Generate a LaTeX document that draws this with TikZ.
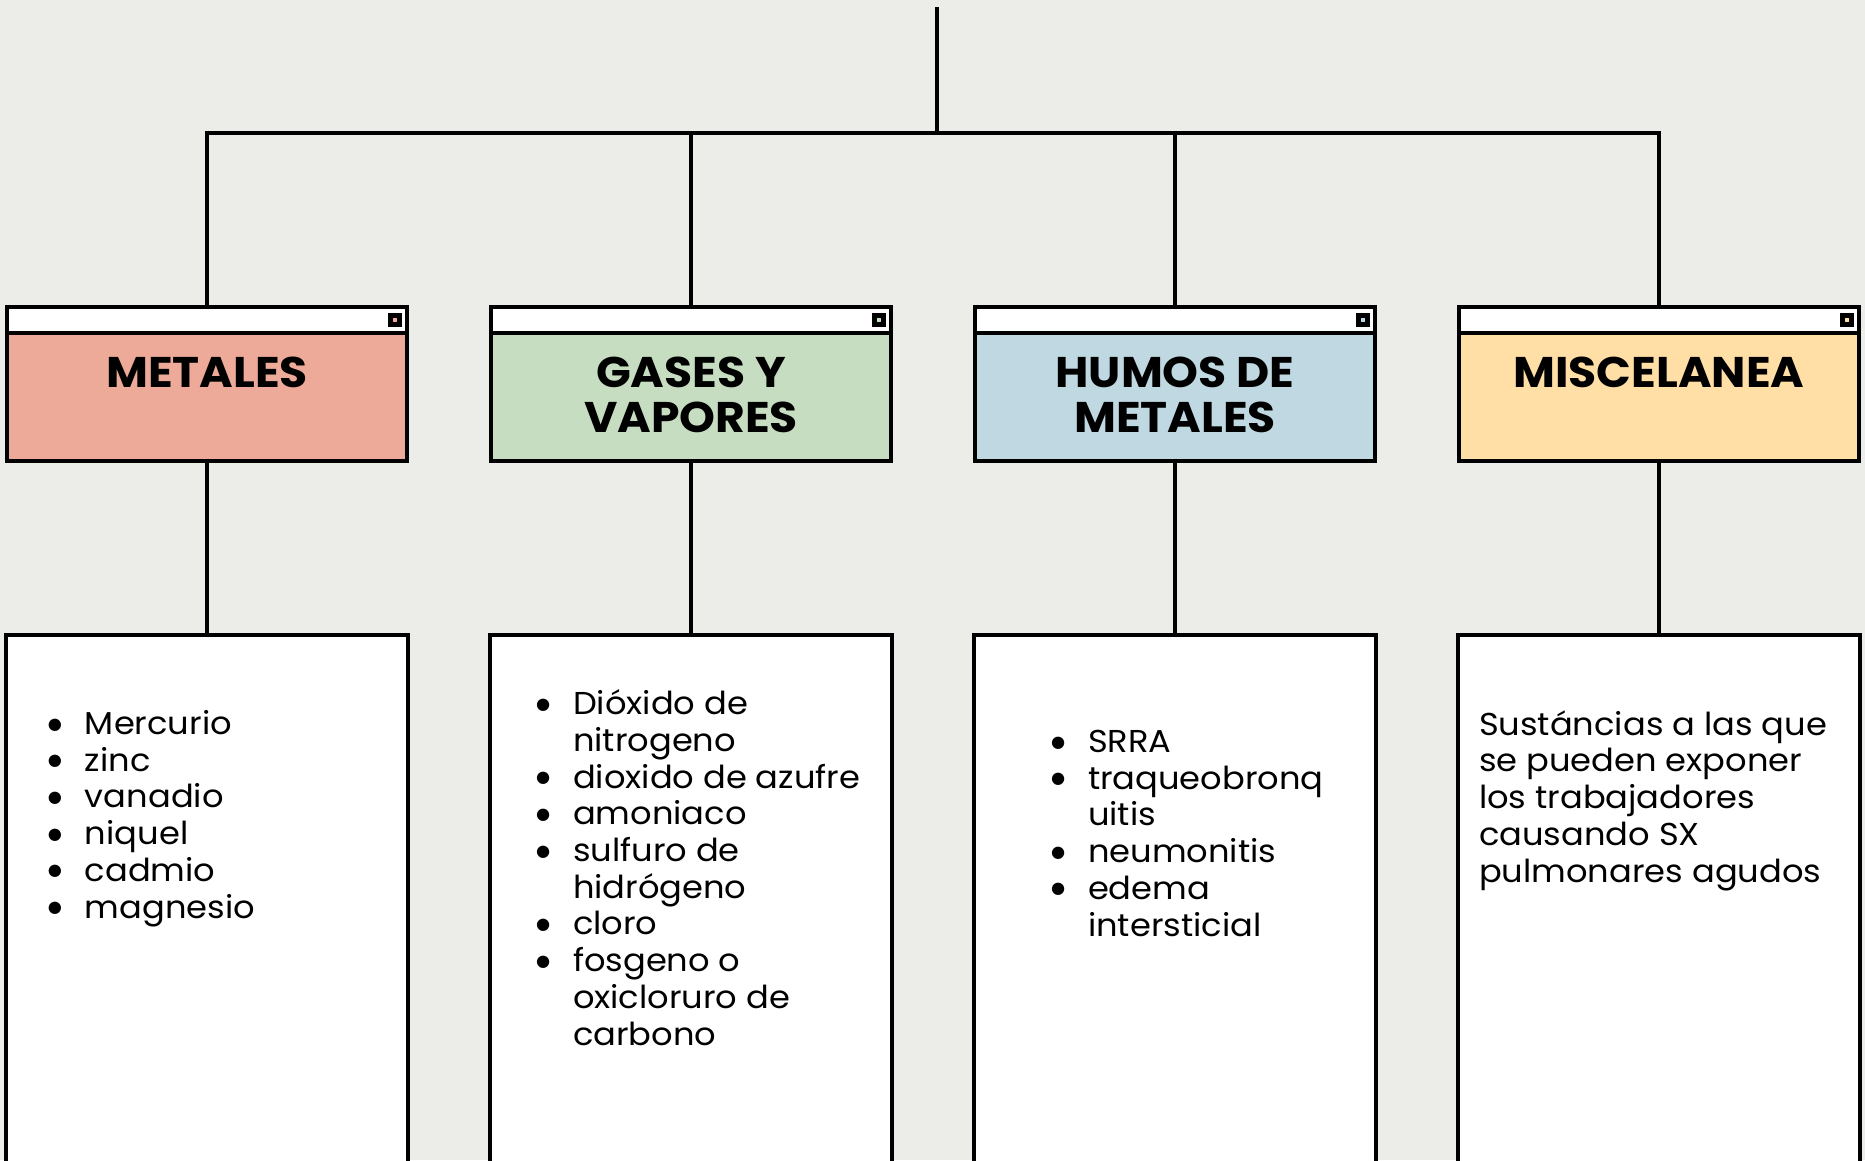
\documentclass[tikz,border=0pt]{standalone}
\usepackage{fontspec}
\setmainfont{Poppins}[FakeStretch=1.065]
\newfontfamily\dotfont{DejaVu Sans}
\usetikzlibrary{positioning}

\definecolor{paper}{HTML}{ECECE8}
\definecolor{metalcol}{HTML}{EEAA98}
\definecolor{gascol}{HTML}{C6DDC2}
\definecolor{humocol}{HTML}{BFD8E1}
\definecolor{misccol}{HTML}{FFDFA6}

% bullet and hanging indent for the lists
\newcommand{\itm}{\makebox[0.37cm][l]{\raisebox{0.17em}{\dotfont\fontsize{4.6}{5}\selectfont ●}}}
\newcommand{\ind}{\hspace*{0.37cm}}

\begin{document}
\begin{tikzpicture}[
  every node/.style={outer sep=0pt},
  bar/.style={draw, fill=white, line width=0.04cm, minimum width=4.0cm, minimum height=0.26cm, inner sep=0pt},
  head/.style={draw, line width=0.04cm, minimum width=4.0cm, minimum height=1.28cm, inner sep=0pt},
  card/.style={draw, fill=white, line width=0.04cm, minimum width=4.02cm, minimum height=6cm, inner sep=0pt},
  knob/.style={draw=black, line width=0.05cm, minimum size=0.09cm, inner sep=0pt},
  title/.style={font=\bfseries\fontsize{12.2}{12.8}\selectfont, align=center, inner sep=0pt},
  items/.style={font=\fontsize{9}{10.44}\selectfont, align=left, inner sep=0pt, anchor=base west},
  link/.style={line width=0.04cm}
]

\useasboundingbox[fill=paper] (0,0) rectangle (18.65,-11.60);

% the four columns (\y = baseline of the last title line)
\foreach \i/\x/\y/\c/\t in {1/2.07/3.87/metalcol/{METALES}, 2/6.91/4.32/gascol/{GASES Y\\VAPORES},
                         3/11.75/4.32/humocol/{HUMOS DE\\METALES}, 4/16.59/3.87/misccol/{MISCELANEA}} {
  \node[bar] (bar\i) at (\x,-3.20) {};
  \node[knob, fill=\c] at ([xshift=-0.12cm]bar\i.east) {};
  \node[head, fill=\c, below=0pt of bar\i] (head\i) {};
  \node[title, anchor=base] (title\i) at (\x,-\y) {\t};
  \node[card, below=1.74cm of head\i] (card\i) {};
}

% tree lines
\coordinate (root) at (9.37,-0.07);
\coordinate (hub) at (9.37,-1.33);
\draw[link] (root) -- (hub);
\draw[link] (bar1.north) |- (hub) -| (bar4.north);
\foreach \i in {2,3}
  \draw[link] (bar\i.north) -- (bar\i.north |- hub);
\foreach \i in {1,...,4}
  \draw[link] (head\i.south) -- (card\i.north);

% contents (anchored on the last baseline)
\node[items] (list1) at (0.48,-9.18) {\itm Mercurio\\ \itm zinc\\ \itm vanadio\\ \itm niquel\\ \itm cadmio\\ \itm magnesio};
\node[items] (list2) at (5.36,-10.45) {\itm Dióxido de\\ \ind nitrogeno\\ \itm dioxido de azufre\\ \itm amoniaco\\
  \itm sulfuro de\\ \ind hidrógeno\\ \itm cloro\\ \itm fosgeno o\\ \ind oxicloruro de\\ \ind carbono};
\node[items] (list3) at (10.51,-9.36) {\itm SRRA\\ \itm traqueobronq\\ \ind uitis\\ \itm neumonitis\\ \itm edema\\ \ind intersticial};
\node[items] (list4) at (14.79,-8.82) {Sustáncias a las que\\ se pueden exponer\\ los trabajadores\\ causando SX\\ pulmonares agudos};

\end{tikzpicture}
\end{document}
